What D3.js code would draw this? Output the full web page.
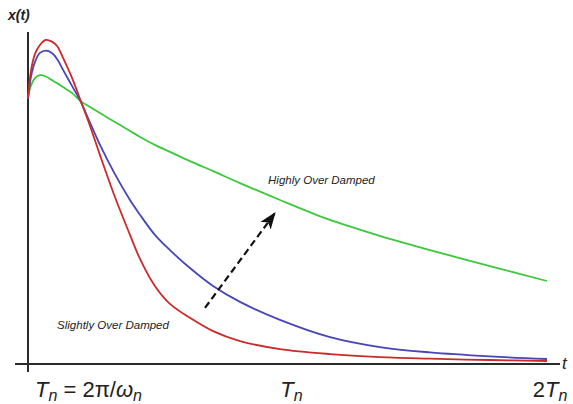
<!DOCTYPE html>
<html>
<head>
<meta charset="utf-8">
<script src="https://cdn.jsdelivr.net/npm/d3@7"></script>
<style>
  body { margin: 0; background: #fff; }
  text { font-family: Arial, "Liberation Sans", sans-serif; fill: #222; }
</style>
</head>
<body>
<div id="chart"></div>
<script>
// time in units of Tn, response normalised to the axis height
var times = [0, 0.012, 0.027, 0.046, 0.069, 0.092, 0.112, 0.135, 0.17, 0.204, 0.239, 0.277, 0.335,
  0.393, 0.432, 0.489, 0.547, 0.624, 0.713, 0.817, 0.971, 1.164, 1.356, 1.549, 1.78, 2.0]
var slightly = [0.801, 0.886, 0.934, 0.961, 0.976, 0.971, 0.958, 0.922, 0.861, 0.791, 0.717, 0.63, 0.503,
  0.389, 0.316, 0.235, 0.181, 0.139, 0.099, 0.069, 0.045, 0.03, 0.021, 0.016, 0.012, 0.009]
var medium = [0.798, 0.867, 0.91, 0.937, 0.944, 0.937, 0.919, 0.886, 0.837, 0.789, 0.727, 0.661, 0.572,
  0.494, 0.449, 0.389, 0.343, 0.289, 0.235, 0.187, 0.133, 0.081, 0.051, 0.035, 0.023, 0.015]
var highly = [0.804, 0.84, 0.861, 0.87, 0.866, 0.855, 0.846, 0.834, 0.816, 0.791, 0.774, 0.756, 0.729,
  0.702, 0.684, 0.66, 0.639, 0.611, 0.581, 0.545, 0.494, 0.434, 0.386, 0.343, 0.295, 0.25]
var seriesColors = ['#cc2a2a', '#4646b8', '#3cc83c']
var tickValues = [0, 1, 2]
var arrowFrom = [0.682, 0.169]
var arrowTo = [0.952, 0.455]

var width = 573
var height = 404
var svg = d3.select('#chart').append('svg')
  .attr('width', width)
  .attr('height', height)

var xScale = d3.scaleLinear().domain([0, 2]).range([28, 547])
var yScale = d3.scaleLinear().domain([0, 1]).range([364, 32])

// axes
svg.append('line')
  .attr('x1', xScale(0)).attr('x2', xScale(0))
  .attr('y1', yScale(1)).attr('y2', yScale(0) + 8)
  .attr('stroke', '#2a2a2a').attr('stroke-width', 2)
svg.append('line')
  .attr('x1', xScale(0) - 13).attr('x2', xScale(2) + 13)
  .attr('y1', yScale(0)).attr('y2', yScale(0))
  .attr('stroke', '#2a2a2a').attr('stroke-width', 2)

svg.append('text')
  .attr('x', 8).attr('y', 20)
  .attr('font-size', 14).attr('font-weight', 'bold').attr('font-style', 'italic')
  .text('x(t)')
svg.append('text')
  .attr('x', xScale(2) + 15).attr('y', yScale(0) + 5)
  .attr('font-size', 17).attr('font-style', 'italic')
  .text('t')

// curves
var line = d3.line()
  .x(function (d) { return xScale(d[0]) })
  .y(function (d) { return yScale(d[1]) })
  .curve(d3.curveCatmullRom.alpha(0.5))
var allSeries = [slightly, medium, highly]
for (let i = allSeries.length - 1; i >= 0; i--) {
  svg.append('path')
    .datum(times.map(function (t, j) { return [t, allSeries[i][j]] }))
    .attr('d', line)
    .attr('fill', 'none')
    .attr('stroke', seriesColors[i])
    .attr('stroke-width', 1.8)
}

// tick labels
var tickGroup = svg.append('g').attr('font-size', 22)
var t0 = tickGroup.append('text').attr('x', xScale(tickValues[0]) + 7).attr('y', 397)
t0.append('tspan').attr('font-style', 'italic').text('T')
t0.append('tspan').attr('font-style', 'italic').attr('font-size', 16).attr('dy', 4).text('n')
t0.append('tspan').attr('dy', -4).text(' = 2π/')
t0.append('tspan').attr('font-style', 'italic').text('ω')
t0.append('tspan').attr('font-style', 'italic').attr('font-size', 16).attr('dy', 4).text('n')

var t1 = tickGroup.append('text').attr('x', xScale(tickValues[1]) + 4).attr('y', 397)
  .attr('text-anchor', 'middle')
t1.append('tspan').attr('font-style', 'italic').text('T')
t1.append('tspan').attr('font-style', 'italic').attr('font-size', 16).attr('dy', 4).text('n')

var t2 = tickGroup.append('text').attr('x', xScale(tickValues[2]) + 3).attr('y', 397)
  .attr('text-anchor', 'middle')
t2.append('tspan').text('2')
t2.append('tspan').attr('font-style', 'italic').text('T')
t2.append('tspan').attr('font-style', 'italic').attr('font-size', 16).attr('dy', 4).text('n')

// annotations
svg.append('text')
  .attr('x', xScale(0.925)).attr('y', yScale(0.542))
  .attr('font-size', 11.5).attr('font-style', 'italic')
  .text('Highly Over Damped')
svg.append('text')
  .attr('x', xScale(0.112)).attr('y', yScale(0.105))
  .attr('font-size', 11.5).attr('font-style', 'italic')
  .text('Slightly Over Damped')

// arrow
svg.append('defs').append('marker')
  .attr('id', 'head')
  .attr('viewBox', '0 0 16 12')
  .attr('refX', 15).attr('refY', 6)
  .attr('markerWidth', 17).attr('markerHeight', 13)
  .attr('markerUnits', 'userSpaceOnUse')
  .attr('orient', 'auto')
  .append('path')
  .attr('d', 'M0,0 L16,6 L0,12 L4,6 Z')
  .attr('fill', '#111')
svg.append('line')
  .attr('x1', xScale(arrowFrom[0])).attr('y1', yScale(arrowFrom[1]))
  .attr('x2', xScale(arrowTo[0])).attr('y2', yScale(arrowTo[1]))
  .attr('stroke', '#111').attr('stroke-width', 2.2)
  .attr('stroke-dasharray', '7,4')
  .attr('marker-end', 'url(#head)')
</script>
</body>
</html>
